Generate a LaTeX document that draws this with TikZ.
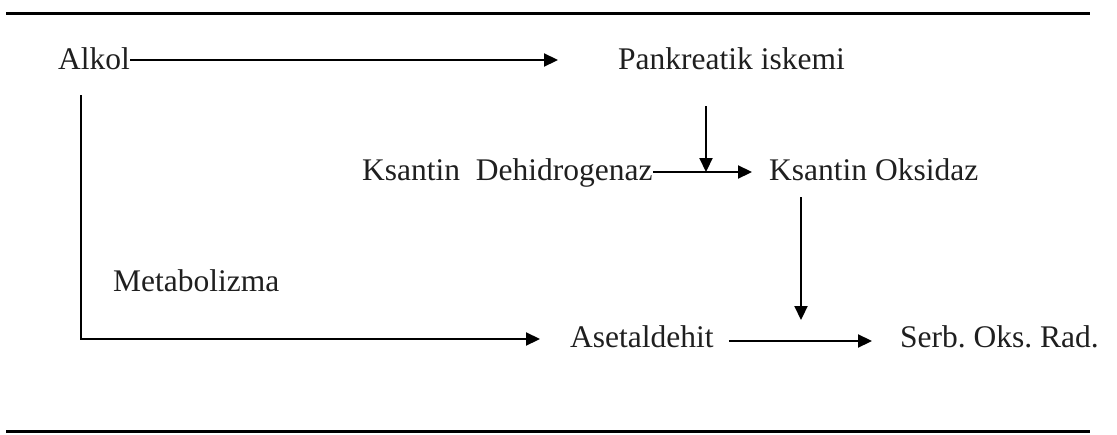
\documentclass[tikz,border=0pt]{standalone}
\usepackage{fontspec}
\setmainfont{Liberation Serif}
\usetikzlibrary{arrows.meta,calc}
\begin{document}
\frenchspacing
\begin{tikzpicture}[x=1pt,y=-1pt,
  lbl/.style={anchor=base west,inner sep=0pt,text=black!88,font=\fontsize{31.5}{38}\selectfont\frenchspacing},
  conn/.style={line width=2.2pt,line cap=butt},
  arr/.style={conn,-{Triangle[length=14pt,width=13pt]}},
  rule/.style={line width=3pt}]
\useasboundingbox (0,0) rectangle (1117,434);
% rules
\coordinate (t1) at (6,13);
\coordinate (t2) at (1090,13);
\coordinate (b1) at (6,431);
\coordinate (b2) at (1090,431);
\draw[rule] (t1) -- (t2);
\draw[rule] (b1) -- (b2);
% nodes
\node[lbl] (alkol) at (58,69) {Alkol};
\node[lbl] (pank) at (618,69) {Pankreatik iskemi};
\node[lbl] (kd) at (362,180) {Ksantin\ \ Dehidrogenaz};
\node[lbl] (ko) at (769,180) {Ksantin Oksidaz};
\node[lbl] (metab) at (113,291) {Metabolizma};
\node[lbl] (aset) at (570,347) {Asetaldehit};
\node[lbl] (serb) at (900,347) {Serb. Oks. Rad.};
% connection points (9pt above the baselines)
\coordinate (alkR) at ($(alkol.base east)+(0,-9)$);
\coordinate (pankL) at ($(pank.base west)+(-60,-9)$);
\coordinate (kdR) at ($(kd.base east)+(0,-8)$);
\coordinate (koL) at ($(ko.base west)+(-17,-8)$);
\coordinate (asetL) at ($(aset.base west)+(-30,-8)$);
\coordinate (asetR) at ($(aset.base east)+(15,-6)$);
\coordinate (serbL) at ($(serb.base west)+(-28,-6)$);
\coordinate (adown) at (81,95);
\coordinate (pdown) at (706,106);
\coordinate (kdown) at (801,197);
\coordinate (ktip) at (801,320);
% connectors
\draw[arr] (alkR) -- (pankL);
\draw[arr] (adown) |- (asetL);
\draw[arr] (pdown) -- (pdown |- kdR);
\draw[arr] (kdR) -- (koL);
\draw[arr] (kdown) -- (ktip);
\draw[arr] (asetR) -- (serbL);
\end{tikzpicture}
\end{document}
